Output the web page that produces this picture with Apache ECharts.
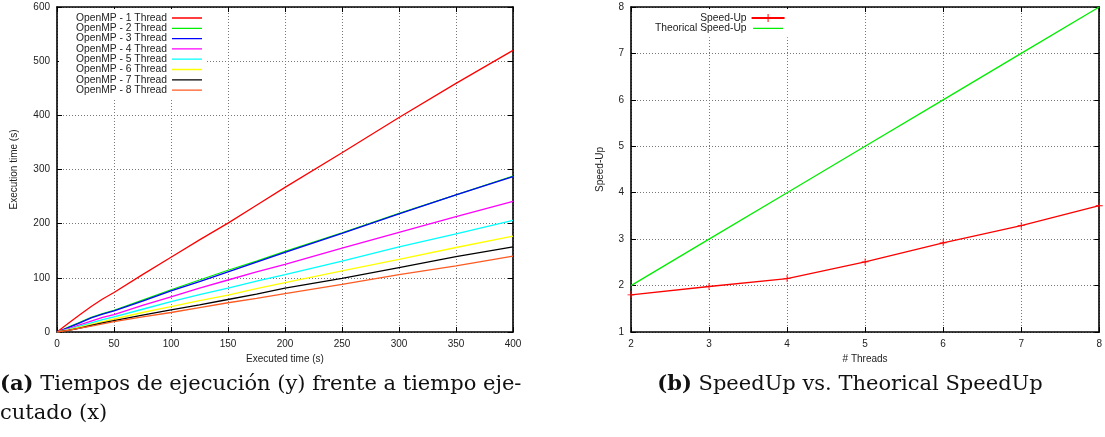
<!DOCTYPE html>
<html>
<head>
<meta charset="utf-8">
<script src="https://cdn.jsdelivr.net/npm/echarts@6/dist/echarts.min.js"></script>
<style>
  html, body { margin: 0; padding: 0; background: #ffffff; }
  #chart { width: 1105px; height: 437px; }
</style>
</head>
<body>
<div id="chart"></div>
<script>
// Executed time samples (s), shared by every OpenMP run
const execTime = [0, 10, 20, 30, 40, 50, 75, 100, 125, 150, 175, 200, 250, 300, 350, 400];

// Execution time (s) for each thread count
const omp1 = [0, 16, 32, 47, 61, 73, 106, 138, 170, 201, 234, 267, 331, 396, 459, 520];
const omp2 = [0, 9, 18, 27, 34, 40, 59, 78, 96, 114, 131, 149, 183, 219, 253, 288];
const omp3 = [0, 8, 17, 26, 33, 39, 57, 76, 93, 111, 129, 147, 182, 218, 253, 287];
const omp4 = [0, 6, 13, 20, 27, 32, 49, 65, 81, 96, 111, 125, 155, 184, 213, 241];
const omp5 = [0, 5, 11, 17, 23, 28, 42, 56, 69, 81, 94, 106, 131, 157, 181, 206];
const omp6 = [0, 4, 9, 14, 19, 24, 36, 47, 58, 68, 80, 91, 113, 134, 156, 177];
const omp7 = [0, 3, 7, 12, 17, 21, 31, 41, 50, 60, 70, 81, 99, 119, 139, 157];
const omp8 = [0, 3, 7, 11, 15, 19, 28, 36, 45, 54, 62, 71, 88, 106, 122, 140];

const ompNames = [
  'OpenMP - 1 Thread', 'OpenMP - 2 Thread', 'OpenMP - 3 Thread', 'OpenMP - 4 Thread',
  'OpenMP - 5 Thread', 'OpenMP - 6 Thread', 'OpenMP - 7 Thread', 'OpenMP - 8 Thread'
];
const ompColors = ['#ff0000', '#00ee00', '#0000ff', '#ff00ff', '#00ffff', '#ffff00', '#000000', '#ff5a22'];

// Speed-up per number of threads
const threads = [2, 3, 4, 5, 6, 7, 8];
const speedUp = [1.80, 1.98, 2.15, 2.51, 2.92, 3.29, 3.72];
const theoricalSpeedUp = [2, 3, 4, 5, 6, 7, 8];

const ompSeriesValues = [omp1, omp2, omp3, omp4, omp5, omp6, omp7, omp8];

const SANS = '"Liberation Sans", Arial, sans-serif';
const SERIF = '"DejaVu Serif", "Liberation Serif", serif';

const gridLine = { show: true, lineStyle: { color: '#777777', width: 1, type: [1, 2] } };
const axisLineStyle = { show: true, onZero: false, lineStyle: { color: '#000', width: 1.6 } };
const tickIn = { show: true, inside: true, length: 5, lineStyle: { color: '#000', width: 1 } };
const labelStyle = { color: '#222', fontFamily: SANS, fontSize: 10 };

function mainAxis(pos, gridIndex, min, max, interval, name, nameGap) {
  return {
    type: 'value', gridIndex, position: pos, min, max, interval,
    name, nameLocation: 'middle', nameGap,
    nameTextStyle: { color: '#222', fontFamily: SANS, fontSize: 10 },
    axisLine: axisLineStyle, axisTick: tickIn,
    axisLabel: Object.assign({ margin: 7 }, labelStyle),
    splitLine: gridLine
  };
}
function mirrorAxis(pos, gridIndex, min, max, interval) {
  return {
    type: 'value', gridIndex, position: pos, min, max, interval,
    axisLine: axisLineStyle, axisTick: tickIn,
    axisLabel: { show: false }, splitLine: { show: false }
  };
}

// '+' marker for the measured speed-up points
const plusSymbol = 'path://M4.4,0H5.6V4.4H10V5.6H5.6V10H4.4V5.6H0V4.4H4.4Z';
// plain line sample for legend entries (corner specks keep the 30x10 box)
const lineIcon = 'path://M0,0h0.001v0.001h-0.001z M0,4.35H30V5.65H0Z M29.999,9.999h0.001v0.001h-0.001z';

const series = ompSeriesValues.map((vals, i) => ({
  name: ompNames[i], type: 'line', xAxisIndex: 0, yAxisIndex: 0,
  symbol: 'none', color: ompColors[i],
  lineStyle: { width: 1.3, color: ompColors[i] },
  data: execTime.map((x, k) => [x, vals[k]]),
  z: i === 1 ? 9 : 10
}));
series.push({
  name: 'Speed-Up', type: 'line', xAxisIndex: 2, yAxisIndex: 2,
  symbol: plusSymbol, symbolSize: 7, color: '#ff0000',
  itemStyle: { color: '#ff0000' },
  lineStyle: { width: 1.3, color: '#ff0000' },
  data: threads.map((t, k) => [t, speedUp[k]])
});
series.push({
  name: 'Theorical Speed-Up', type: 'line', xAxisIndex: 2, yAxisIndex: 2,
  symbol: 'none', color: '#00ee00',
  lineStyle: { width: 1.3, color: '#00ee00' },
  data: threads.map((t, k) => [t, theoricalSpeedUp[k]])
});

const legendText = { color: '#222', fontFamily: SANS, fontSize: 10.3, lineHeight: 10 };

const option = {
  animation: false,
  backgroundColor: '#ffffff',
  grid: [
    { left: 57, top: 7, width: 456, height: 325, containLabel: false },
    { left: 631, top: 7, width: 469, height: 325, containLabel: false }
  ],
  xAxis: [
    mainAxis('bottom', 0, 0, 400, 50, 'Executed time (s)', 21),
    mirrorAxis('top', 0, 0, 400, 50),
    mainAxis('bottom', 1, 2, 8, 1, '# Threads', 21),
    mirrorAxis('top', 1, 2, 8, 1)
  ],
  yAxis: [
    mainAxis('left', 0, 0, 600, 100, 'Execution time (s)', 38),
    mirrorAxis('right', 0, 0, 600, 100),
    mainAxis('left', 1, 1, 8, 1, 'Speed-Up', 26),
    mirrorAxis('right', 1, 1, 8, 1)
  ],
  legend: [
    {
      data: ompNames.map(n => ({ name: n, icon: lineIcon })),
      orient: 'vertical', align: 'right',
      left: 59, top: 9, padding: [4, 4, 4, 17],
      itemWidth: 30, itemHeight: 10, itemGap: 0.3,
      backgroundColor: '#ffffff', textStyle: legendText,
      selectedMode: false
    },
    {
      data: ['Speed-Up', { name: 'Theorical Speed-Up', icon: lineIcon }],
      orient: 'vertical', align: 'right',
      left: 651, top: 9, padding: [4, 4, 4, 4],
      itemWidth: 33, itemHeight: 10, itemGap: 0.3,
      backgroundColor: '#ffffff', textStyle: legendText,
      selectedMode: false
    }
  ],
  series,
  graphic: [
    {
      type: 'text', x: 0, y: 385,
      style: {
        text: '{b|(a)} Tiempos de ejecución (y) frente a tiempo eje-',
        font: '21px ' + SERIF, fill: '#111', verticalAlign: 'middle',
        rich: { b: { fontWeight: 'bold', fontSize: 21, fontFamily: SERIF, fill: '#111' } }
      }
    },
    {
      type: 'text', x: 0, y: 414,
      style: { text: 'cutado (x)', font: '21px ' + SERIF, fill: '#111', verticalAlign: 'middle' }
    },
    {
      type: 'text', x: 850, y: 385,
      style: {
        text: '{b|(b)} SpeedUp vs. Theorical SpeedUp',
        font: '21px ' + SERIF, fill: '#111', align: 'center', verticalAlign: 'middle',
        rich: { b: { fontWeight: 'bold', fontSize: 21, fontFamily: SERIF, fill: '#111' } }
      }
    }
  ]
};

const chart = echarts.init(document.getElementById('chart'), null, { renderer: 'canvas' });
chart.setOption(option);
</script>
</body>
</html>
